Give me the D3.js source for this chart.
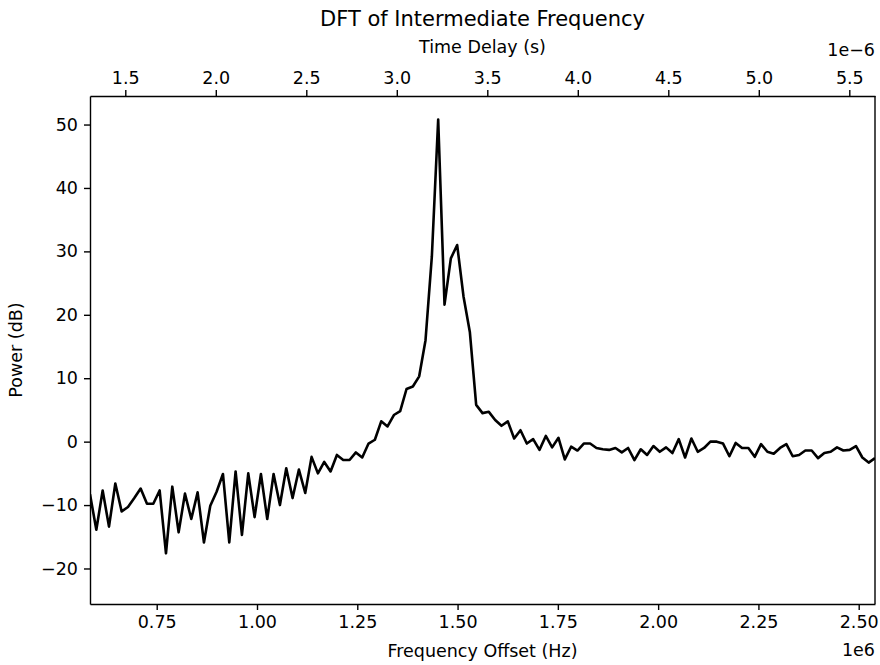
<!DOCTYPE html>
<html>
<head>
  <meta charset="utf-8">
  <script src="https://d3js.org/d3.v7.min.js"></script>
  <style>
    body {
      margin: 0;
      background: white;
      font-family: "DejaVu Sans", sans-serif;
    }
    .tick text {
      font-size: 17.5px;
      fill: #000;
    }
    .tick line, .domain {
      stroke: #000;
      stroke-width: 1.4px;
    }
    .label {
      font-size: 17.5px;
      fill: #000;
    }
  </style>
</head>
<body>
  <div id="chart"></div>
  <script>
    // Power of each DFT bin (dB) from left to right
    const powerDb = [
      -8.3, -13.9, -7.7, -13.4, -6.6, -11.0, -10.3, -8.9, -7.4, -9.8,
      -9.8, -7.7, -17.6, -7.1, -14.3, -8.2, -12.2, -8.0, -15.9, -10.1,
      -7.9, -5.1, -15.9, -4.7, -14.7, -5.0, -11.9, -5.1, -12.2, -5.1,
      -10.0, -4.2, -8.9, -4.4, -8.1, -2.4, -5.0, -3.2, -4.7, -2.1,
      -2.9, -2.9, -1.7, -2.5, -0.3, 0.3, 3.2, 2.4, 4.2, 4.8,
      8.3, 8.7, 10.3, 16.0, 29.2, 50.8, 21.6, 28.9, 31.0, 22.9,
      17.3, 5.8, 4.5, 4.7, 3.4, 2.5, 3.2, 0.5, 1.8, -0.3,
      0.4, -1.3, 0.9, -0.9, 0.6, -2.8, -0.8, -1.4, -0.3, -0.3,
      -1.0, -1.2, -1.3, -1.0, -1.7, -1.0, -2.9, -1.2, -2.1, -0.7,
      -1.6, -0.9, -1.8, 0.4, -2.5, 0.5, -1.6, -1.0, 0.0, 0.0,
      -0.3, -2.3, -0.2, -1.0, -1.0, -2.4, -0.4, -1.6, -1.9, -1.0,
      -0.4, -2.3, -2.1, -1.4, -1.4, -2.6, -1.8, -1.6, -0.9, -1.4,
      -1.3, -0.7, -2.5, -3.3, -2.6
    ];
    // frequency of the first and last bin (Hz); bins are evenly spaced
    const freqFirst = 0.5837e6;
    const freqLast = 2.5406e6;
    const freqTicks = [0.75e6, 1.0e6, 1.25e6, 1.5e6, 1.75e6, 2.0e6, 2.25e6, 2.5e6];
    const powerTicks = [-20, -10, 0, 10, 20, 30, 40, 50];
    const powerRange = [-25.6, 54.5];
    // secondary axis: time delay (units of 1e-6 s) at the left and right edges
    const delayRange = [1.305, 5.642];
    const delayTicks = [1.5, 2.0, 2.5, 3.0, 3.5, 4.0, 4.5, 5.0, 5.5];

    const width = 880, height = 665;
    const margin = { top: 96, right: 5, bottom: 61, left: 90 };
    const innerW = width - margin.left - margin.right;
    const innerH = height - margin.top - margin.bottom;

    const freqStep = (freqLast - freqFirst) / (powerDb.length - 1);
    const data = powerDb.map((p, i) => ({ f: freqFirst + i * freqStep, p }));

    const svg = d3.select('#chart')
      .append('svg')
      .attr('width', width)
      .attr('height', height);

    const g = svg.append('g')
      .attr('transform', `translate(${margin.left},${margin.top})`);

    const x = d3.scaleLinear().domain([freqFirst, freqLast]).range([0, innerW]);
    const xTop = d3.scaleLinear().domain(delayRange).range([0, innerW]);
    const y = d3.scaleLinear().domain(powerRange).range([innerH, 0]);

    g.append('clipPath').attr('id', 'plot-clip')
      .append('rect').attr('width', innerW).attr('height', innerH);

    // the trace
    const line = d3.line().x(d => x(d.f)).y(d => y(d.p));
    g.append('path')
      .datum(data)
      .attr('clip-path', 'url(#plot-clip)')
      .attr('fill', 'none')
      .attr('stroke', '#000')
      .attr('stroke-width', 2.6)
      .attr('stroke-linejoin', 'round')
      .attr('d', line);

    // axes
    const fmt2 = d3.format('.2f');
    const fmt1 = d3.format('.1f');

    g.append('g')
      .attr('transform', `translate(0,${innerH})`)
      .call(d3.axisBottom(x).tickValues(freqTicks).tickSize(6).tickPadding(6)
        .tickSizeOuter(0).tickFormat(d => fmt2(d / 1e6)));

    g.append('g')
      .call(d3.axisTop(xTop).tickValues(delayTicks).tickSize(6).tickPadding(6)
        .tickSizeOuter(0).tickFormat(fmt1));

    g.append('g')
      .call(d3.axisLeft(y).tickValues(powerTicks).tickSize(6).tickPadding(6)
        .tickSizeOuter(0).tickFormat(d3.format('d')));

    // right spine
    g.append('line')
      .attr('x1', innerW).attr('x2', innerW)
      .attr('y1', 0).attr('y2', innerH)
      .attr('stroke', '#000').attr('stroke-width', 1.4);

    g.selectAll('.domain').attr('stroke-width', 1.4);
    g.selectAll('.tick text').attr('font-family', '"DejaVu Sans", sans-serif');

    // labels
    svg.append('text')
      .attr('class', 'label')
      .attr('x', margin.left + innerW / 2)
      .attr('y', 26)
      .attr('text-anchor', 'middle')
      .style('font-size', '21px')
      .text('DFT of Intermediate Frequency');

    svg.append('text')
      .attr('class', 'label')
      .attr('x', margin.left + innerW / 2)
      .attr('y', 53)
      .attr('text-anchor', 'middle')
      .text('Time Delay (s)');

    svg.append('text')
      .attr('class', 'label')
      .attr('x', margin.left + innerW / 2)
      .attr('y', 657)
      .attr('text-anchor', 'middle')
      .text('Frequency Offset (Hz)');

    svg.append('text')
      .attr('class', 'label')
      .attr('transform', `translate(22,${margin.top + innerH / 2}) rotate(-90)`)
      .attr('text-anchor', 'middle')
      .text('Power (dB)');

    // offset texts
    svg.append('text')
      .attr('class', 'label')
      .attr('x', margin.left + innerW)
      .attr('y', 656)
      .attr('text-anchor', 'end')
      .text('1e6');

    svg.append('text')
      .attr('class', 'label')
      .attr('x', margin.left + innerW)
      .attr('y', 56)
      .attr('text-anchor', 'end')
      .text('1e\u22126');
  </script>
</body>
</html>
